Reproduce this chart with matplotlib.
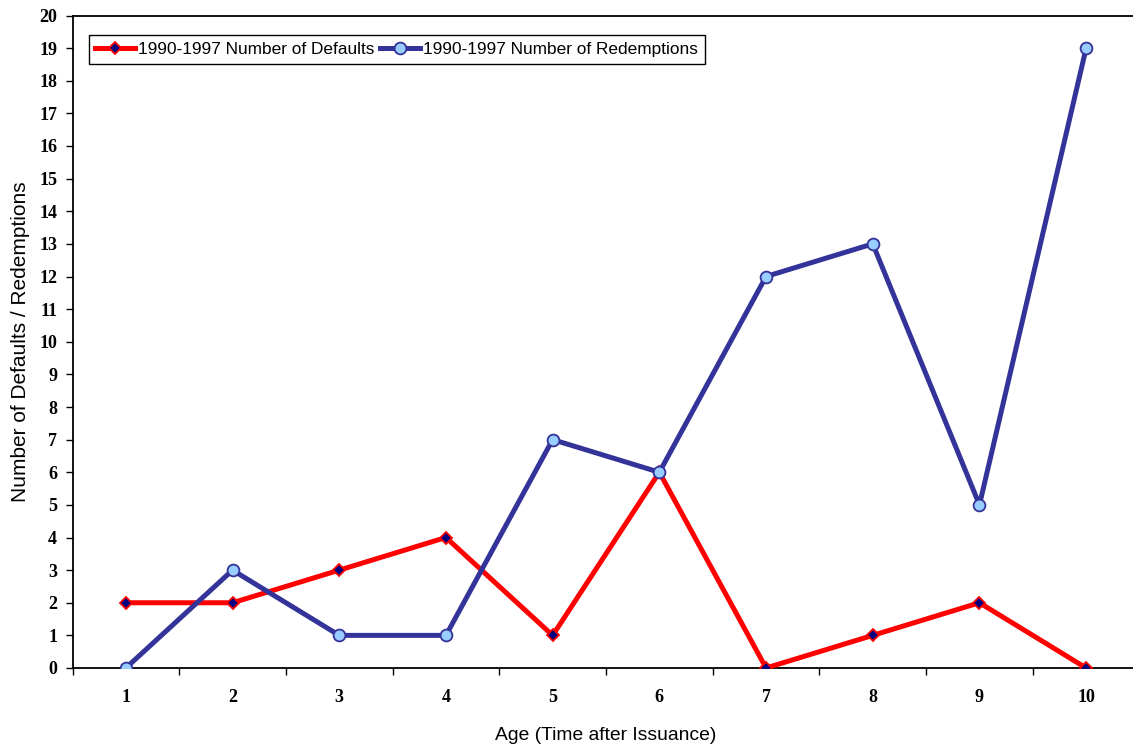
import matplotlib
matplotlib.use('Agg')
import matplotlib.pyplot as plt
from matplotlib.ticker import FixedLocator

ages = [1, 2, 3, 4, 5, 6, 7, 8, 9, 10]
defaults = [2, 2, 3, 4, 1, 6, 0, 1, 2, 0]
redemptions = [0, 3, 1, 1, 7, 6, 12, 13, 5, 19]
y_ticks = list(range(0, 21))

fig = plt.figure(figsize=(11.33, 7.46), dpi=100)
# plot area runs off the right edge like the original
ax = fig.add_axes([72.5 / 1133, 78 / 746, 1067 / 1133, 652.5 / 746])

ax.plot(ages, defaults, color='#FF0000', lw=3.6, marker='D', ms=6.5,
        mfc='#000080', mec='#FF0000', mew=1.3, label='1990-1997 Number of Defaults',
        zorder=3)
ax.plot(ages, redemptions, color='#333399', lw=3.6, marker='o', ms=8.5,
        mfc='#99CCFF', mec='#333399', mew=1.3, label='1990-1997 Number of Redemptions',
        zorder=4)

ax.set_xlim(0.5, 10.5)
ax.set_ylim(0, 20)
ax.set_yticks(y_ticks)
ax.set_xticks(ages)
ax.xaxis.set_minor_locator(FixedLocator([x + 0.5 for x in range(0, 11)]))
ax.tick_params(axis='x', which='major', length=0, pad=15)
ax.tick_params(axis='x', which='minor', length=5, width=1, direction='out')
ax.tick_params(axis='y', length=5, width=1, direction='out', pad=6)

for lab in ax.get_xticklabels() + ax.get_yticklabels():
    lab.set_fontfamily('Liberation Serif')
    lab.set_fontweight('bold')
    lab.set_fontsize(13)

ax.spines['right'].set_visible(False)
for s in ['left', 'bottom', 'top']:
    ax.spines[s].set_linewidth(1.3)

ax.set_xlabel('Age (Time after Issuance)', fontfamily='Liberation Sans', fontsize=13.9, labelpad=15)
ax.set_ylabel('Number of Defaults / Redemptions', fontfamily='Liberation Sans', fontsize=15)
ax.yaxis.set_label_coords(-0.0395, 0.5)

leg = ax.legend(loc='upper left', bbox_to_anchor=(0.015, 0.97), ncol=2, frameon=True,
                fancybox=False, edgecolor='black', framealpha=1,
                prop={'family': 'Liberation Sans', 'size': 12.4},
                handlelength=2.3, handletextpad=0.2, columnspacing=0.3,
                borderpad=0.4, borderaxespad=0)
leg.get_frame().set_linewidth(1.0)

fig.savefig('out.png', dpi=100)
